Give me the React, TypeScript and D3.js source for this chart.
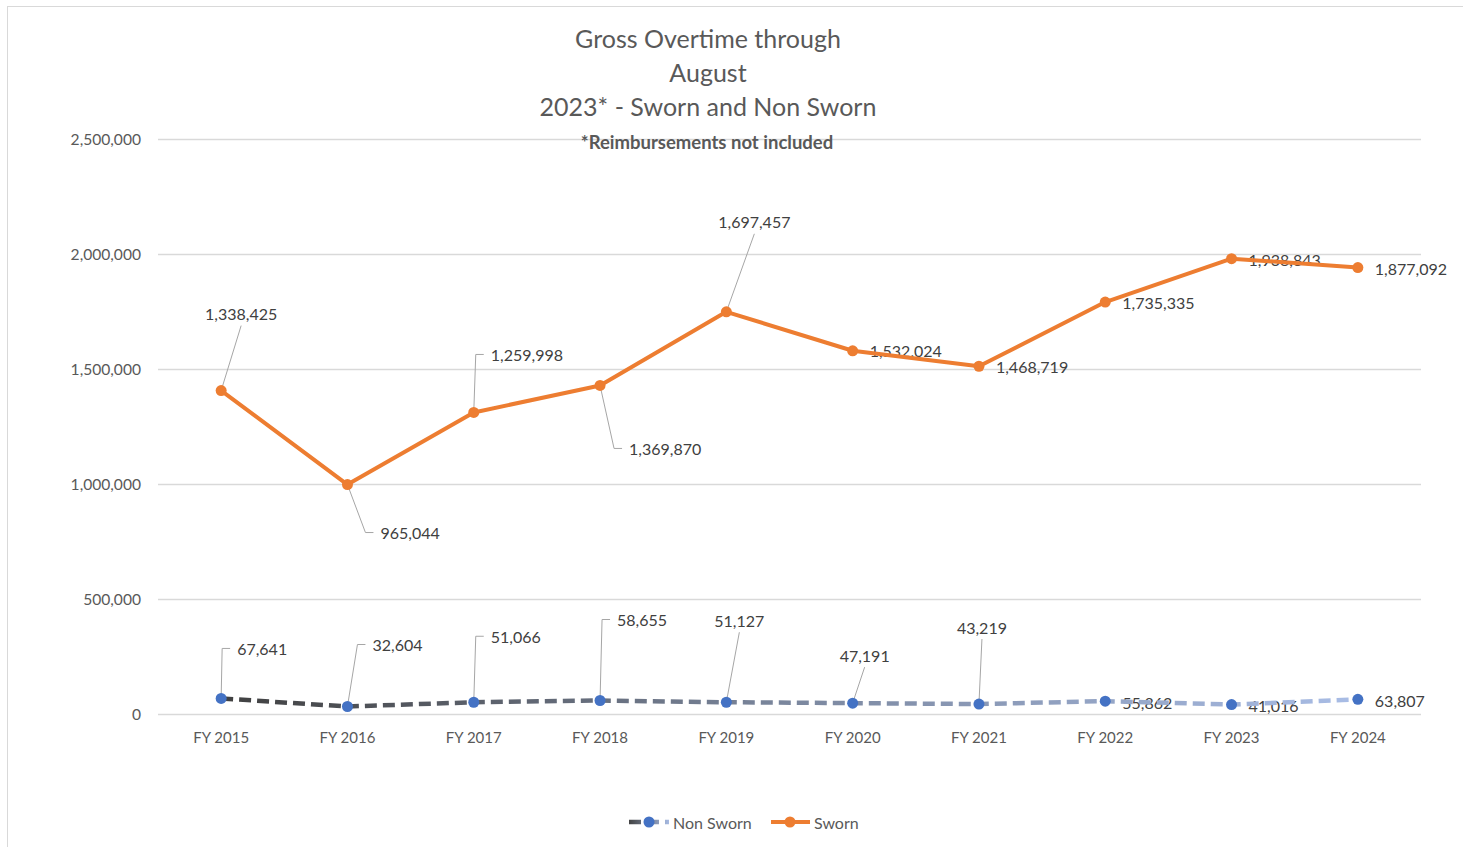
// Dependencies
import React, { useRef, useEffect } from "react";
import * as d3 from "d3";

// Data
const categories = [
  "FY 2015",
  "FY 2016",
  "FY 2017",
  "FY 2018",
  "FY 2019",
  "FY 2020",
  "FY 2021",
  "FY 2022",
  "FY 2023",
  "FY 2024",
];
const nonSworn = [67641, 32604, 51066, 58655, 51127, 47191, 43219, 55862, 41016, 63807];
const sworn = [
  1338425, 965044, 1259998, 1369870, 1697457, 1532024, 1468719, 1735335, 1938843, 1877092,
];
const yTicks = [0, 500000, 1000000, 1500000, 2000000, 2500000];

// Label placement (offsets from the marker, in px)
type LabelPos = { dx: number; dy: number; anchor: "start" | "middle"; leader: boolean };
const swornLabelPos: LabelPos[] = [
  { dx: 20, dy: -77, anchor: "middle", leader: true },
  { dx: 33, dy: 48, anchor: "start", leader: true },
  { dx: 17, dy: -58, anchor: "start", leader: true },
  { dx: 29, dy: 63, anchor: "start", leader: true },
  { dx: 28, dy: -90, anchor: "middle", leader: true },
  { dx: 17, dy: 0, anchor: "start", leader: false },
  { dx: 17, dy: 0, anchor: "start", leader: false },
  { dx: 17, dy: 0, anchor: "start", leader: false },
  { dx: 17, dy: 1, anchor: "start", leader: false },
  { dx: 17, dy: 1, anchor: "start", leader: false },
];
const nonSwornLabelPos: LabelPos[] = [
  { dx: 16, dy: -50, anchor: "start", leader: true },
  { dx: 25, dy: -62, anchor: "start", leader: true },
  { dx: 17, dy: -66, anchor: "start", leader: true },
  { dx: 17, dy: -81, anchor: "start", leader: true },
  { dx: 13, dy: -82, anchor: "middle", leader: true },
  { dx: 12, dy: -48, anchor: "middle", leader: true },
  { dx: 3, dy: -77, anchor: "middle", leader: true },
  { dx: 17, dy: 1, anchor: "start", leader: false },
  { dx: 17, dy: 1, anchor: "start", leader: false },
  { dx: 17, dy: 1, anchor: "start", leader: false },
];

const FONT = "Lato, 'Open Sans', sans-serif";
const TEXT = "#595959";
const ORANGE = "#ED7D31";
const BLUE = "#4472C4";

const App: React.FC = () => {
  const chartRef = useRef<SVGSVGElement | null>(null);
  const width = 1463;
  const height = 847;

  useEffect(() => {
    if (!chartRef.current) return;
    const root = d3.select(chartRef.current);
    root.selectAll("*").remove();

    const margin = { top: 139, right: 42, bottom: 133, left: 158 };

    // Outer chart border
    root
      .append("rect")
      .attr("x", 7.5)
      .attr("y", 6.5)
      .attr("width", width + 20)
      .attr("height", height + 20)
      .attr("fill", "white")
      .attr("stroke", "#d9d9d9");

    // Titles
    const titleLines = ["Gross Overtime through", "August", "2023* - Sworn and Non Sworn"];
    root
      .append("g")
      .selectAll("text")
      .data(titleLines)
      .join("text")
      .attr("x", 708)
      .attr("y", (_d, i) => 38 + i * 34)
      .attr("text-anchor", "middle")
      .attr("dominant-baseline", "central")
      .attr("font-family", FONT)
      .attr("font-size", 25)
      .attr("fill", TEXT)
      .text((d) => d);

    // Scales
    const xScale = d3
      .scaleBand()
      .domain(categories)
      .range([margin.left, width - margin.right]);
    const yScale = d3
      .scaleLinear()
      .domain([0, 2500000])
      .range([height - margin.bottom, margin.top]);
    const cx = (i: number) => xScale(categories[i])! + xScale.bandwidth() / 2;

    // Gridlines
    root
      .append("g")
      .selectAll("line")
      .data(yTicks)
      .join("line")
      .attr("x1", margin.left)
      .attr("x2", width - margin.right)
      .attr("y1", (d) => Math.round(yScale(d)) + 0.5)
      .attr("y2", (d) => Math.round(yScale(d)) + 0.5)
      .attr("stroke", "#d9d9d9")
      .attr("stroke-width", 1.3);

    root
      .append("text")
      .attr("x", 707)
      .attr("y", 142)
      .attr("text-anchor", "middle")
      .attr("dominant-baseline", "central")
      .attr("font-family", FONT)
      .attr("font-size", 18.5)
      .attr("font-weight", "bold")
      .attr("fill", TEXT)
      .text("*Reimbursements not included");

    // Y axis labels
    root
      .append("g")
      .selectAll("text")
      .data(yTicks)
      .join("text")
      .attr("x", 141)
      .attr("y", (d) => yScale(d))
      .attr("text-anchor", "end")
      .attr("dominant-baseline", "central")
      .attr("font-family", FONT)
      .attr("font-size", 15.6)
      .attr("fill", TEXT)
      .text((d) => d3.format(",")(d));

    // X axis labels
    root
      .append("g")
      .selectAll("text")
      .data(categories)
      .join("text")
      .attr("x", (_d, i) => cx(i))
      .attr("y", 737)
      .attr("text-anchor", "middle")
      .attr("dominant-baseline", "central")
      .attr("font-family", FONT)
      .attr("font-size", 15)
      .attr("fill", TEXT)
      .text((d) => d);

    // Stacked values: sworn sits on top of non sworn
    const swornStack = sworn.map((v, i) => v + nonSworn[i]);

    // Gradient for the non sworn line
    const defs = root.append("defs");
    const grad = defs
      .append("linearGradient")
      .attr("id", "nsGrad")
      .attr("gradientUnits", "userSpaceOnUse")
      .attr("x1", cx(0))
      .attr("x2", cx(categories.length - 1))
      .attr("y1", 0)
      .attr("y2", 0);
    grad.append("stop").attr("offset", "0%").attr("stop-color", "#404040");
    grad.append("stop").attr("offset", "50%").attr("stop-color", "#7b879e");
    grad.append("stop").attr("offset", "100%").attr("stop-color", "#a9bde6");

    const legGrad = defs
      .append("linearGradient")
      .attr("id", "legGrad")
      .attr("gradientUnits", "userSpaceOnUse")
      .attr("x1", 628)
      .attr("x2", 670)
      .attr("y1", 0)
      .attr("y2", 0);
    legGrad.append("stop").attr("offset", "0%").attr("stop-color", "#404040");
    legGrad.append("stop").attr("offset", "100%").attr("stop-color", "#a9bde6");

    const line = d3
      .line<number>()
      .x((_d, i) => cx(i))
      .y((d) => yScale(d));

    // Leader lines + labels
    const drawLabels = (values: number[], plotted: number[], pos: LabelPos[]) => {
      const g = root.append("g");
      values.forEach((v, i) => {
        const px = cx(i);
        const py = yScale(plotted[i]);
        const p = pos[i];
        const lx = px + p.dx;
        const ly = py + p.dy;
        if (p.leader) {
          let path = "";
          if (p.anchor === "start") {
            path = `M${px},${py}L${lx - 15},${ly}L${lx - 7},${ly}`;
          } else {
            const ey = p.dy < 0 ? ly + 12 : ly - 12;
            path = `M${px},${py}L${lx},${ey}`;
          }
          g.append("path")
            .attr("d", path)
            .attr("fill", "none")
            .attr("stroke", "#a6a6a6")
            .attr("stroke-width", 1);
        }
        g.append("text")
          .attr("x", lx)
          .attr("y", ly)
          .attr("text-anchor", p.anchor)
          .attr("dominant-baseline", "central")
          .attr("font-family", FONT)
          .attr("font-size", 16)
          .attr("fill", "#404040")
          .text(d3.format(",")(v));
      });
    };

    drawLabels(sworn, swornStack, swornLabelPos);
    drawLabels(nonSworn, nonSworn, nonSwornLabelPos);

    // Non sworn series
    root
      .append("path")
      .datum(nonSworn)
      .attr("d", line)
      .attr("fill", "none")
      .attr("stroke", "url(#nsGrad)")
      .attr("stroke-width", 4.5)
      .attr("stroke-dasharray", "12 6");
    root
      .append("g")
      .selectAll("circle")
      .data(nonSworn)
      .join("circle")
      .attr("cx", (_d, i) => cx(i))
      .attr("cy", (d) => yScale(d))
      .attr("r", 5.5)
      .attr("fill", BLUE);

    // Sworn series
    root
      .append("path")
      .datum(swornStack)
      .attr("d", line)
      .attr("fill", "none")
      .attr("stroke", ORANGE)
      .attr("stroke-width", 4)
      .attr("stroke-linejoin", "round");
    root
      .append("g")
      .selectAll("circle")
      .data(swornStack)
      .join("circle")
      .attr("cx", (_d, i) => cx(i))
      .attr("cy", (d) => yScale(d))
      .attr("r", 5.5)
      .attr("fill", ORANGE);

    // Legend
    const legend = root.append("g").attr("class", "legend");
    legend
      .append("line")
      .attr("x1", 629)
      .attr("x2", 669)
      .attr("y1", 822)
      .attr("y2", 822)
      .attr("stroke", "url(#legGrad)")
      .attr("stroke-width", 4.5)
      .attr("stroke-dasharray", "12 6");
    legend.append("circle").attr("cx", 649).attr("cy", 822).attr("r", 5.5).attr("fill", BLUE);
    legend
      .append("text")
      .attr("x", 673)
      .attr("y", 822)
      .attr("dominant-baseline", "central")
      .attr("font-family", FONT)
      .attr("font-size", 16)
      .attr("fill", TEXT)
      .text("Non Sworn");
    legend
      .append("line")
      .attr("x1", 771)
      .attr("x2", 810)
      .attr("y1", 822)
      .attr("y2", 822)
      .attr("stroke", ORANGE)
      .attr("stroke-width", 4);
    legend.append("circle").attr("cx", 790).attr("cy", 822).attr("r", 5.5).attr("fill", ORANGE);
    legend
      .append("text")
      .attr("x", 814)
      .attr("y", 822)
      .attr("dominant-baseline", "central")
      .attr("font-family", FONT)
      .attr("font-size", 16)
      .attr("fill", TEXT)
      .text("Sworn");
  }, []);

  return (
    <svg
      ref={chartRef}
      width={width}
      height={height}
      style={{ position: "absolute", left: 0, top: 0, display: "block" }}
    />
  );
};

export default App;
